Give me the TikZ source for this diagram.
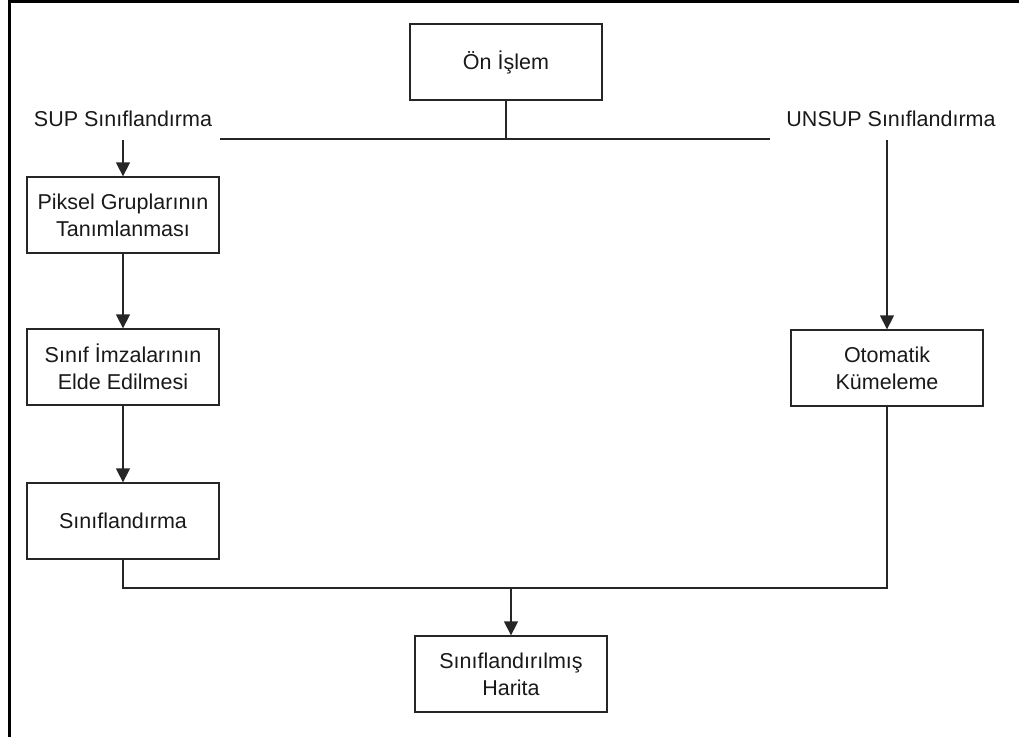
\documentclass[tikz,border=0pt]{standalone}
\usepackage{fontspec}
\setmainfont{Liberation Sans}
\usetikzlibrary{arrows.meta}
\tikzset{
  box/.style={draw=black!85, line width=1.3pt, minimum width=192pt, minimum height=76pt, align=center, inner sep=0pt, font=\fontsize{21.5}{27}\selectfont, text=black!90},
  lbl/.style={inner sep=0pt, font=\fontsize{21.5}{27}\selectfont, text=black!90},
  conn/.style={draw=black!85, line width=1.3pt},
  arr/.style={conn, -{Triangle[length=14pt,width=14pt]}},
  frame/.style={draw=black, line width=3pt}
}
\begin{document}
\begin{tikzpicture}[x=1pt,y=-1pt]
\useasboundingbox (0,0) rectangle (1019,737);
% frame (top and left edges)
\coordinate (ftl) at (9,1);
\coordinate (ftr) at (1019,1);
\coordinate (fbl) at (9,737);
\draw[frame] (fbl) -- (ftl) -- (ftr);

\node[box] (pre) at (506,62) {Ön İşlem};
\node[lbl] (sup) at (123,119) {SUP Sınıflandırma};
\node[lbl] (unsup) at (891,119) {UNSUP Sınıflandırma};
\node[box] (piksel) at (123,215) {Piksel Gruplarının\\Tanımlanması};
\node[box] (imza) at (123,367) {Sınıf İmzalarının\\Elde Edilmesi};
\node[box] (sinif) at (123,521) {Sınıflandırma};
\node[box] (oto) at (887,368) {Otomatik\\Kümeleme};
\node[box] (harita) at (511,674) {Sınıflandırılmış\\Harita};

\coordinate (hl) at (220,139);
\coordinate (hr) at (770,139);
\coordinate (hm) at (506,139);
\coordinate (supA) at (123,140);
\coordinate (unA) at (887,140);
\coordinate (jl) at (123,588);
\coordinate (jr) at (887,588);
\coordinate (jm) at (511,588);

\draw[conn] (pre.south) -- (hm);
\draw[conn] (hl) -- (hr);
\draw[arr] (supA) -- (piksel.north);
\draw[arr] (piksel.south) -- (imza.north);
\draw[arr] (imza.south) -- (sinif.north);
\draw[arr] (unA) -- (oto.north);
\draw[conn] (sinif.south) -- (jl) -- (jr) -- (oto.south);
\draw[arr] (jm) -- (harita.north);
\end{tikzpicture}
\end{document}
